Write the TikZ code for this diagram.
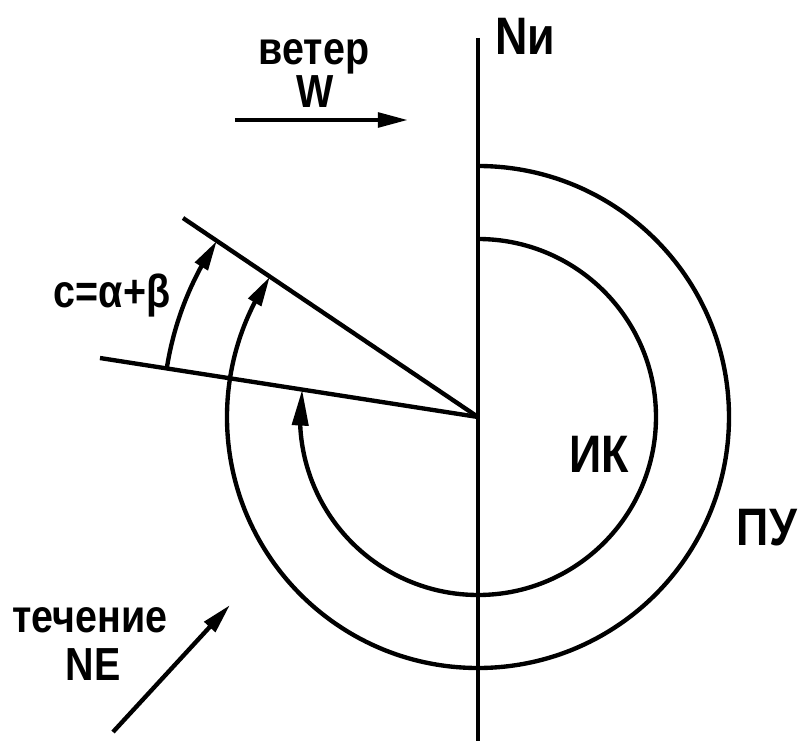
\documentclass[tikz,border=0pt]{standalone}
\usepackage{fontspec}
\setmainfont{Liberation Sans}[FakeStretch=0.85]
\usepackage{tikz}
\usetikzlibrary{positioning,arrows.meta,bending,calc}
\tikzset{
  axisline/.style={line width=3.1pt, draw=black},
  dirarr/.style={-{Triangle[length=7.5mm,width=3.6mm,flex]}, line width=3.1pt},
  longarr/.style={-{Triangle[length=9mm,width=4mm,flex]}, line width=3.1pt},
  lbl/.style={font=\fontsize{33}{36}\selectfont\bfseries, inner sep=0pt, anchor=base},
  biglbl/.style={font=\fontsize{37.5}{40}\selectfont\bfseries, inner sep=0pt, anchor=base}
}

\begin{document}
\begin{tikzpicture}
\useasboundingbox (-11.95,-8.1) rectangle (8.05,10.425);
% centre of the compass and the end points
\coordinate (O) at (0,0);
\coordinate (top) at (0,9.475);
\coordinate (bot) at (0,-8.1);
\coordinate (hdg) at (146:8.895);
\coordinate (crs) at (171.13:9.565);
% meridian and the two course lines
\draw[axisline] (top) -- (bot);
\draw[axisline] (O) -- (hdg);
\draw[axisline] (O) -- (crs);
% arcs
\draw[longarr] ($(O)+(90:4.45)$) arc[start angle=90, end angle=-188.87, radius=4.45];
\draw[dirarr] ($(O)+(90:6.275)$) arc[start angle=90, end angle=-214, radius=6.275];
\draw[dirarr] ($(O)+(171.13:7.875)$) arc[start angle=171.13, end angle=146, radius=7.875];
% labels
\node[biglbl, anchor=base west] (north) at (0.425,9.05) {Nи};
\node[biglbl] (ik) at (3.025,-1.375) {ИК};
\node[biglbl] (pu) at (7.225,-3.2) {ПУ};
\node[lbl] (angc) at (-9.15,2.75) {c=α+β};
% wind
\node[lbl] (wind) at (-4.1,8.8) {ветер};
\node[lbl] (windDir) at (-4.075,7.725) {W};
\coordinate (w1) at (-6.075,7.425);
\coordinate (w2) at (-1.75,7.425);
\draw[dirarr] (w1) -- (w2);
% current
\node[lbl] (curr) at (-9.7,-5.375) {течение};
\node[lbl] (currDir) at (-9.625,-6.575) {NE};
\coordinate (c1) at (-9.125,-7.875);
\coordinate (c2) at (-6.2,-4.7);
\draw[dirarr] (c1) -- (c2);
\end{tikzpicture}
\end{document}
